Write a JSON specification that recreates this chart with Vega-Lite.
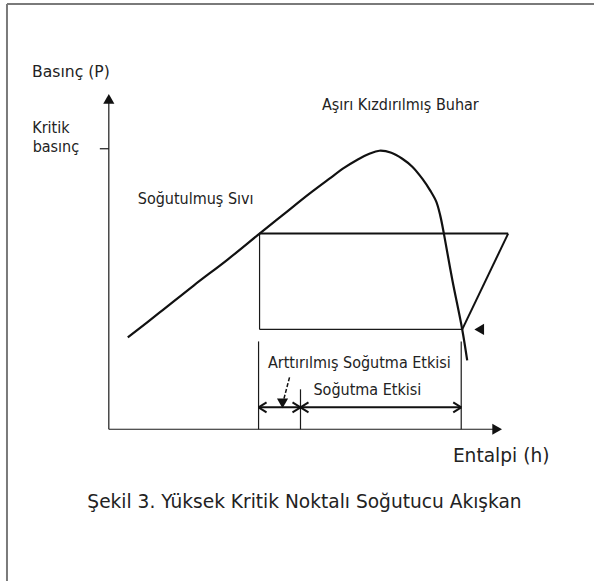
{
  "$schema": "https://vega.github.io/schema/vega-lite/v6.json",
  "width": 595,
  "height": 582,
  "autosize": {"type": "fit", "contains": "padding"},
  "padding": 0,
  "background": "white",
  "config": {"view": {"stroke": null}},
  "datasets": {
    "frame": [
      {"h": 7, "P": 578, "h2": 595, "P2": 578},
      {"h": 7, "P": 578, "h2": 7, "P2": 0}
    ],
    "thin": [
      {"h": 109, "P": 152, "h2": 109, "P2": 480},
      {"h": 100, "P": 433, "h2": 109, "P2": 433},
      {"h": 109, "P": 152, "h2": 494, "P2": 152},
      {"h": 260, "P": 348, "h2": 260, "P2": 252},
      {"h": 260, "P": 252, "h2": 463, "P2": 252},
      {"h": 259, "P": 240, "h2": 259, "P2": 152},
      {"h": 301, "P": 192, "h2": 301, "P2": 152},
      {"h": 462, "P": 240, "h2": 462, "P2": 152}
    ],
    "thick": [
      {"h": 260, "P": 348, "h2": 509, "P2": 348},
      {"h": 509, "P": 348, "h2": 463, "P2": 252},
      {"h": 259, "P": 174, "h2": 462, "P2": 174},
      {"h": 259, "P": 174, "h2": 267, "P2": 179},
      {"h": 259, "P": 174, "h2": 267, "P2": 169},
      {"h": 301, "P": 174, "h2": 293, "P2": 179},
      {"h": 301, "P": 174, "h2": 293, "P2": 169},
      {"h": 301, "P": 174, "h2": 309, "P2": 179},
      {"h": 301, "P": 174, "h2": 309, "P2": 169},
      {"h": 462, "P": 174, "h2": 454, "P2": 179},
      {"h": 462, "P": 174, "h2": 454, "P2": 169}
    ],
    "dashed": [
      {"h": 290, "P": 204, "h2": 284, "P2": 181}
    ],
    "curve": [
      {"i": 1, "h": 128, "P": 244},
      {"i": 2, "h": 160, "P": 269},
      {"i": 3, "h": 194, "P": 296},
      {"i": 4, "h": 228, "P": 322},
      {"i": 5, "h": 260, "P": 348},
      {"i": 6, "h": 285, "P": 368},
      {"i": 7, "h": 310, "P": 388},
      {"i": 8, "h": 330, "P": 403},
      {"i": 9, "h": 345, "P": 414},
      {"i": 10, "h": 358, "P": 422},
      {"i": 11, "h": 370, "P": 428},
      {"i": 12, "h": 380, "P": 431},
      {"i": 13, "h": 392, "P": 429},
      {"i": 14, "h": 403, "P": 423},
      {"i": 15, "h": 413, "P": 415},
      {"i": 16, "h": 423, "P": 403},
      {"i": 17, "h": 431, "P": 391},
      {"i": 18, "h": 437, "P": 380},
      {"i": 19, "h": 441, "P": 366},
      {"i": 20, "h": 445, "P": 346},
      {"i": 21, "h": 453, "P": 302},
      {"i": 22, "h": 463, "P": 252},
      {"i": 23, "h": 468, "P": 221}
    ],
    "heads": [
      {"h": 109, "P": 483, "dir": "up"},
      {"h": 498, "P": 152, "dir": "right"},
      {"h": 480, "P": 252, "dir": "left"},
      {"h": 283, "P": 178, "dir": "down"}
    ],
    "narrow": [
      {"h": 51, "P": 449, "label": "Kritik"},
      {"h": 56, "P": 430, "label": "basınç"},
      {"h": 401, "P": 472, "label": "Aşırı Kızdırılmış Buhar"},
      {"h": 196, "P": 378, "label": "Soğutulmuş Sıvı"},
      {"h": 360, "P": 213, "label": "Arttırılmış Soğutma Etkisi"},
      {"h": 368, "P": 186, "label": "Soğutma Etkisi"}
    ],
    "axisTitle": [
      {"h": 71, "P": 505, "label": "Basınç (P)"}
    ],
    "wide": [
      {"h": 502, "P": 119, "label": "Entalpi (h)"},
      {"h": 305, "P": 73, "label": "Şekil 3. Yüksek Kritik Noktalı Soğutucu Akışkan"}
    ]
  },
  "layer": [
    {
      "data": {"name": "frame"},
      "mark": {"type": "rule", "color": "#7a7a7a", "strokeWidth": 2},
      "encoding": {
        "x": {"field": "h", "type": "quantitative", "scale": {"domain": [0, 595], "nice": false, "zero": false}, "axis": null},
        "y": {"field": "P", "type": "quantitative", "scale": {"domain": [0, 582], "nice": false, "zero": false}, "axis": null},
        "x2": {"field": "h2"},
        "y2": {"field": "P2"}
      }
    },
    {
      "data": {"name": "thin"},
      "mark": {"type": "rule", "color": "#1a1a1a", "strokeWidth": 1.2},
      "encoding": {
        "x": {"field": "h", "type": "quantitative"},
        "y": {"field": "P", "type": "quantitative"},
        "x2": {"field": "h2"},
        "y2": {"field": "P2"}
      }
    },
    {
      "data": {"name": "thick"},
      "mark": {"type": "rule", "color": "#111", "strokeWidth": 2},
      "encoding": {
        "x": {"field": "h", "type": "quantitative"},
        "y": {"field": "P", "type": "quantitative"},
        "x2": {"field": "h2"},
        "y2": {"field": "P2"}
      }
    },
    {
      "data": {"name": "dashed"},
      "mark": {"type": "rule", "color": "#111", "strokeWidth": 1.5, "strokeDash": [4, 2]},
      "encoding": {
        "x": {"field": "h", "type": "quantitative"},
        "y": {"field": "P", "type": "quantitative"},
        "x2": {"field": "h2"},
        "y2": {"field": "P2"}
      }
    },
    {
      "data": {"name": "curve"},
      "mark": {"type": "line", "color": "#111", "strokeWidth": 2.2, "interpolate": "catmull-rom"},
      "encoding": {
        "x": {"field": "h", "type": "quantitative"},
        "y": {"field": "P", "type": "quantitative"},
        "order": {"field": "i", "type": "quantitative"}
      }
    },
    {
      "data": {"name": "heads"},
      "mark": {"type": "point", "filled": true, "color": "#111", "opacity": 1, "size": 125},
      "encoding": {
        "x": {"field": "h", "type": "quantitative"},
        "y": {"field": "P", "type": "quantitative"},
        "shape": {"field": "dir", "type": "nominal", "scale": {"domain": ["up", "right", "left", "down"], "range": ["triangle-up", "triangle-right", "triangle-left", "triangle-down"]}, "legend": null}
      }
    },
    {
      "data": {"name": "narrow"},
      "mark": {"type": "text", "font": "DejaVu Sans Condensed, DejaVu Sans, sans-serif", "fontSize": 16, "baseline": "alphabetic", "align": "center", "color": "#222"},
      "encoding": {
        "x": {"field": "h", "type": "quantitative"},
        "y": {"field": "P", "type": "quantitative"},
        "text": {"field": "label"}
      }
    },
    {
      "data": {"name": "axisTitle"},
      "mark": {"type": "text", "font": "DejaVu Sans", "fontSize": 15.6, "baseline": "alphabetic", "align": "center", "color": "#222"},
      "encoding": {
        "x": {"field": "h", "type": "quantitative"},
        "y": {"field": "P", "type": "quantitative"},
        "text": {"field": "label"}
      }
    },
    {
      "data": {"name": "wide"},
      "mark": {"type": "text", "font": "DejaVu Sans", "fontSize": 18.6, "baseline": "alphabetic", "align": "center", "color": "#222"},
      "encoding": {
        "x": {"field": "h", "type": "quantitative"},
        "y": {"field": "P", "type": "quantitative"},
        "text": {"field": "label"}
      }
    }
  ]
}
